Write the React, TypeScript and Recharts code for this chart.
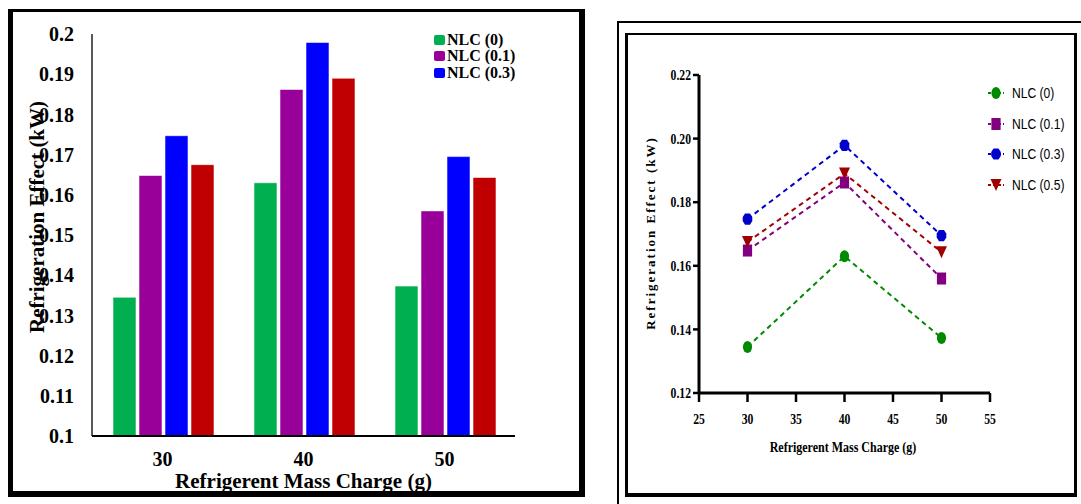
import React from 'react';
import { BarChart, Bar, LineChart, Line, XAxis, YAxis, Legend } from 'recharts';

// ---- data ----
const categories = ['30', '40', '50'];
const massCharge = [30, 40, 50];
const seriesNames = ['NLC (0)', 'NLC (0.1)', 'NLC (0.3)', 'NLC (0.5)'];
const nlc0 = [0.1345, 0.163, 0.1373];
const nlc01 = [0.1648, 0.1862, 0.156];
const nlc03 = [0.1747, 0.1979, 0.1695];
const nlc05 = [0.1675, 0.189, 0.1643];
const barYTicks = [0.1, 0.11, 0.12, 0.13, 0.14, 0.15, 0.16, 0.17, 0.18, 0.19, 0.2];
const lineYTicks = [0.12, 0.14, 0.16, 0.18, 0.2, 0.22];
const lineXTicks = [25, 30, 35, 40, 45, 50, 55];
const barLegendNames = ['NLC (0)', 'NLC (0.1)', 'NLC (0.3)'];

const barColors = ['#00B050', '#990099', '#0000FF', '#C00000'];
const lineColors = ['#008a00', '#800080', '#0000CC', '#A00000'];
const keys = ['s0', 's1', 's2', 's3'];

const barData = categories.map((c, i) => ({
  cat: c,
  s0: nlc0[i],
  s1: nlc01[i],
  s2: nlc03[i],
  s3: nlc05[i],
}));
const lineData = massCharge.map((m, i) => ({
  x: m,
  s0: nlc0[i],
  s1: nlc01[i],
  s2: nlc03[i],
  s3: nlc05[i],
}));

const SERIF = '"Liberation Serif", "Times New Roman", serif';
const SANS = '"Liberation Sans", Arial, sans-serif';

function AxisTitle(props: any) {
  const { viewBox, text, kind, off, shift, style, sx } = props;
  if (!viewBox) return null;
  if (kind === 'x') {
    const cx = viewBox.x + viewBox.width / 2 + (shift || 0);
    const y = viewBox.y + off;
    const tr = sx ? `translate(${cx} 0) scale(${sx} 1) translate(${-cx} 0)` : undefined;
    return (
      <text x={cx} y={y} textAnchor="middle" style={style} transform={tr}>
        {text}
      </text>
    );
  }
  const cy = viewBox.y + viewBox.height / 2 + (shift || 0);
  const x = viewBox.x + off;
  return (
    <text
      x={x}
      y={cy}
      textAnchor="middle"
      dominantBaseline="central"
      transform={`rotate(-90 ${x} ${cy})`}
      style={style}
    >
      {text}
    </text>
  );
}

function CondTick(props: any) {
  const { x, y, payload, axis } = props;
  const label = axis === 'y' ? Number(payload.value).toFixed(2) : String(payload.value);
  const sx = 0.78;
  return (
    <text
      x={x}
      y={y}
      dy={axis === 'y' ? '0.35em' : '0.71em'}
      textAnchor={axis === 'y' ? 'end' : 'middle'}
      transform={`translate(${x} 0) scale(${sx} 1) translate(${-x} 0)`}
      style={{ fontFamily: SERIF, fontWeight: 700, fontSize: 15, fill: '#000' }}
    >
      {label}
    </text>
  );
}

function BarLegend(props: any) {
  const payload = (props.payload || []).filter((p: any) => barLegendNames.includes(p.value));
  return (
    <div style={{ fontFamily: SERIF, fontWeight: 700, fontSize: 16, lineHeight: '16.5px', color: '#000' }}>
      {payload.map((p: any, i: number) => (
        <div key={i} style={{ display: 'flex', alignItems: 'center', height: 16.5, whiteSpace: 'nowrap' }}>
          <span
            style={{
              display: 'inline-block',
              width: 11,
              height: 10,
              borderRadius: 2,
              background: p.color,
              marginRight: 2,
            }}
          />
          <span>{p.value}</span>
        </div>
      ))}
    </div>
  );
}

function MarkerShape({ idx, cx, cy, color }: any) {
  if (idx === 0) return <ellipse cx={cx} cy={cy} rx={4.6} ry={6} fill={color} />;
  if (idx === 1) return <rect x={cx - 4.6} y={cy - 6} width={9.2} height={12} fill={color} />;
  if (idx === 2) {
    const pts = [
      [cx - 2.5, cy - 5.6],
      [cx + 2.5, cy - 5.6],
      [cx + 4.8, cy - 2],
      [cx + 4.8, cy + 2],
      [cx + 2.5, cy + 5.6],
      [cx - 2.5, cy + 5.6],
      [cx - 4.8, cy + 2],
      [cx - 4.8, cy - 2],
    ]
      .map((p) => p.join(','))
      .join(' ');
    return <polygon points={pts} fill={color} />;
  }
  return <polygon points={`${cx - 5.5},${cy - 6} ${cx + 5.5},${cy - 6} ${cx},${cy + 6}`} fill={color} />;
}

function LineLegend(props: any) {
  const payload = props.payload || [];
  return (
    <div style={{ fontFamily: SANS, fontSize: 15.5, color: '#000' }}>
      {payload.map((p: any, i: number) => {
        const idx = seriesNames.indexOf(p.value);
        return (
          <div key={i} style={{ display: 'flex', alignItems: 'center', height: 30.7, whiteSpace: 'nowrap' }}>
            <svg width={20} height={16} style={{ display: 'block', marginRight: 6 }}>
              <line x1={2} y1={8} x2={18} y2={8} stroke={p.color} strokeWidth={2} strokeDasharray="3 2" />
              <MarkerShape idx={idx} cx={10} cy={8} color={p.color} />
            </svg>
            <span style={{ display: 'inline-block', transform: 'scaleX(0.78)', transformOrigin: 'left center' }}>
              {p.value}
            </span>
          </div>
        );
      })}
    </div>
  );
}

function makeDot(idx: number) {
  return (p: any) => (
    <MarkerShape key={`d${idx}-${p.index}`} idx={idx} cx={p.cx} cy={p.cy} color={lineColors[idx]} />
  );
}

export default function App() {
  return (
    <div
      style={{
        position: 'absolute',
        left: 0,
        top: 0,
        width: 1081,
        height: 504,
        overflow: 'hidden',
        background: '#fff',
      }}
    >
      {/* left panel frame */}
      <div
        style={{
          position: 'absolute',
          left: 8,
          top: 9,
          width: 577,
          height: 488,
          boxSizing: 'border-box',
          borderStyle: 'solid',
          borderColor: '#000',
          borderWidth: '3px 6px 6px 5px',
        }}
      />
      {/* right panel frames */}
      <div
        style={{
          position: 'absolute',
          left: 617,
          top: 21,
          width: 520,
          height: 520,
          boxSizing: 'border-box',
          border: '2px solid #000',
        }}
      />
      <div
        style={{
          position: 'absolute',
          left: 625,
          top: 33,
          width: 452,
          height: 464,
          boxSizing: 'border-box',
          borderStyle: 'solid',
          borderColor: '#000',
          borderWidth: '2px 3px 4px 3px',
        }}
      />

      <div style={{ position: 'absolute', left: 0, top: 0 }}>
        <BarChart
          width={600}
          height={504}
          data={barData}
          margin={{ top: 34, right: 85, left: 32, bottom: 38 }}
          barCategoryGap={21}
          barGap={3}
        >
          <XAxis
            dataKey="cat"
            height={30}
            tickLine={false}
            tickSize={0}
            tickMargin={16}
            axisLine={{ stroke: '#000', strokeWidth: 2 }}
            tick={{ fontFamily: SERIF, fontWeight: 700, fontSize: 20, fill: '#000' }}
            label={
              <AxisTitle
                kind="x"
                text="Refrigerent Mass Charge (g)"
                off={52}
                shift={0}
                style={{ fontFamily: SERIF, fontWeight: 700, fontSize: 21, fill: '#000' }}
              />
            }
          />
          <YAxis
            width={60}
            domain={[0.1, 0.2]}
            ticks={barYTicks}
            interval={0}
            tickLine={false}
            tickSize={0}
            tickMargin={18}
            tickFormatter={(v: number) => String(v)}
            axisLine={{ stroke: '#000', strokeWidth: 1.3 }}
            tick={{ fontFamily: SERIF, fontWeight: 700, fontSize: 20, fill: '#000' }}
            label={
              <AxisTitle
                kind="y"
                text="Refrigeration Effect (kW)"
                off={5}
                shift={-18}
                style={{ fontFamily: SERIF, fontWeight: 700, fontSize: 21, fill: '#000' }}
              />
            }
          />
          <Legend
            layout="horizontal"
            verticalAlign="middle"
            align="center"
            content={<BarLegend />}
            wrapperStyle={{ position: 'absolute', left: 434, top: 31.5, width: 'auto', height: 'auto' }}
          />
          {keys.map((k, i) => (
            <Bar
              key={k}
              dataKey={k}
              name={seriesNames[i]}
              fill={barColors[i]}
              stroke="rgba(255,255,255,0.55)"
              strokeWidth={1}
              isAnimationActive={false}
            />
          ))}
        </BarChart>
      </div>

      <div style={{ position: 'absolute', left: 600, top: 0 }}>
        <LineChart
          width={481}
          height={504}
          data={lineData}
          margin={{ top: 75, right: 91, left: 59, bottom: 81 }}
        >
          <XAxis
            dataKey="x"
            type="number"
            domain={[25, 55]}
            ticks={lineXTicks}
            interval={0}
            height={30}
            tickSize={9}
            tickMargin={11}
            tickLine={{ stroke: '#000', strokeWidth: 2.5 }}
            axisLine={{ stroke: '#000', strokeWidth: 3 }}
            tick={<CondTick axis="x" />}
            label={
              <AxisTitle
                kind="x"
                text="Refrigerent Mass Charge (g)"
                off={59}
                shift={-1.5}
                sx={0.8}
                style={{ fontFamily: SERIF, fontWeight: 700, fontSize: 15, fill: '#000' }}
              />
            }
          />
          <YAxis
            width={40}
            domain={[0.12, 0.22]}
            ticks={lineYTicks}
            interval={0}
            tickSize={6}
            tickMargin={2}
            tickLine={{ stroke: '#000', strokeWidth: 2.5 }}
            axisLine={{ stroke: '#000', strokeWidth: 3 }}
            tick={<CondTick axis="y" />}
            label={
              <AxisTitle
                kind="y"
                text="Refrigeration Effect (kW)"
                off={-9}
                shift={-1}
                style={{ fontFamily: SERIF, fontWeight: 700, fontSize: 13, fill: '#000', letterSpacing: 2 }}
              />
            }
          />
          <Legend
            layout="horizontal"
            verticalAlign="middle"
            align="center"
            content={<LineLegend />}
            wrapperStyle={{ position: 'absolute', left: 386, top: 77.6, width: 'auto', height: 'auto' }}
          />
          {keys.map((k, i) => (
            <Line
              key={k}
              type="linear"
              dataKey={k}
              name={seriesNames[i]}
              stroke={lineColors[i]}
              strokeWidth={2}
              strokeDasharray="5 4"
              dot={makeDot(i)}
              activeDot={false}
              isAnimationActive={false}
            />
          ))}
        </LineChart>
      </div>
    </div>
  );
}
